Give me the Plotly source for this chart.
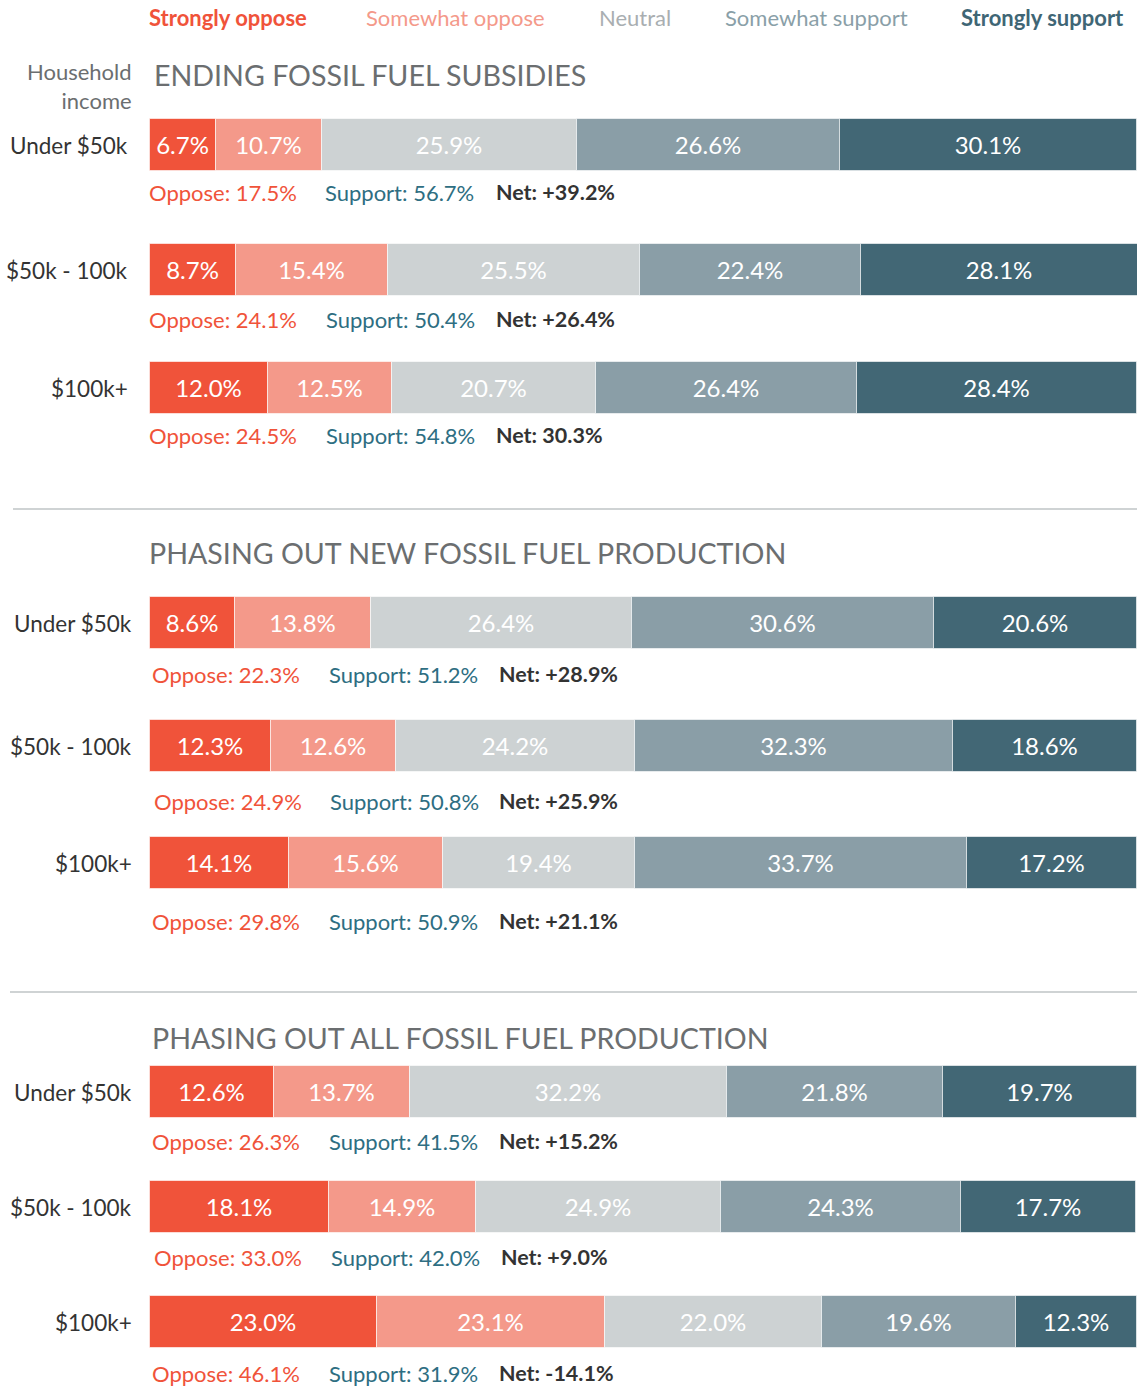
import plotly.graph_objects as go

# ---------------- data ----------------
questions = ["ENDING FOSSIL FUEL SUBSIDIES",
             "PHASING OUT NEW FOSSIL FUEL PRODUCTION",
             "PHASING OUT ALL FOSSIL FUEL PRODUCTION"]
incomes = ["Under $50k", "$50k - 100k", "$100k+"]
categories = ["Strongly oppose", "Somewhat oppose", "Neutral", "Somewhat support", "Strongly support"]

strongly_oppose = [6.7, 8.7, 12.0, 8.6, 12.3, 14.1, 12.6, 18.1, 23.0]
somewhat_oppose = [10.7, 15.4, 12.5, 13.8, 12.6, 15.6, 13.7, 14.9, 23.1]
neutral = [25.9, 25.5, 20.7, 26.4, 24.2, 19.4, 32.2, 24.9, 22.0]
somewhat_support = [26.6, 22.4, 26.4, 30.6, 32.3, 33.7, 21.8, 24.3, 19.6]
strongly_support = [30.1, 28.1, 28.4, 20.6, 18.6, 17.2, 19.7, 17.7, 12.3]

oppose_total = [17.5, 24.1, 24.5, 22.3, 24.9, 29.8, 26.3, 33.0, 46.1]
support_total = [56.7, 50.4, 54.8, 51.2, 50.8, 50.9, 41.5, 42.0, 31.9]
net_labels = ["+39.2%", "+26.4%", "30.3%", "+28.9%", "+25.9%", "+21.1%", "+15.2%", "+9.0%", "-14.1%"]

# ---------------- style / layout ----------------
W, H = 1137, 1387
LEFT = 150.0           # pixel of 0%
PXU = (W - LEFT) / 100  # pixels per percent
FONT = "Lato"
PAD = 3                # annotation inner padding compensation

colors = ["#f0533a", "#f4998a", "#cdd2d3", "#8a9ea7", "#426775"]
legend_colors = ["#f0533a", "#f4998a", "#a9aeb1", "#8a9fa8", "#3f6675"]
legend_px = [150, 367, 600, 726, 962]

row_centers = [145, 270, 388, 623, 746, 863, 1092, 1207, 1322]
summary_offsets = [47, 49, 47, 51, 55, 58, 49, 50, 51]
summary_px = [[150, 326, 497], [150, 327, 497], [150, 327, 497],
              [153, 330, 500], [155, 331, 500], [153, 330, 500],
              [153, 330, 500], [155, 332, 502], [153, 330, 500]]
title_y = [75, 553, 1038]
title_px = [155, 150, 153]
sep_y = [509, 992]
BAR_H = 52


def px2x(px):
    return (px - LEFT) / PXU


series = [strongly_oppose, somewhat_oppose, neutral, somewhat_support, strongly_support]

fig = go.Figure()
for k, (name, vals, col) in enumerate(zip(categories, series, colors)):
    base = [sum(s[i] for s in series[:k]) for i in range(len(vals))]
    fig.add_trace(go.Bar(
        orientation="h", name=name,
        x=vals, y=row_centers, base=base, width=BAR_H,
        marker=dict(color=col, line=dict(color="rgba(255,255,255,0.6)", width=1)),
        text=[f"{v:.1f}%" for v in vals],
        textposition="inside", insidetextanchor="middle",
        textfont=dict(family=FONT, size=24, color="white"),
        constraintext="none", hoverinfo="skip", showlegend=False,
    ))

ann = []
# legend
for lab, col, px in zip(categories, legend_colors, legend_px):
    bold = lab.startswith("Strongly")
    ann.append(dict(x=px2x(px - PAD), y=17, xref="x", yref="y", xanchor="left", yanchor="middle",
                    text=f"<b>{lab}</b>" if bold else lab, showarrow=False,
                    font=dict(family=FONT, size=22, color=col)))

# household income header
ann.append(dict(x=px2x(131 + PAD), y=85.5, xref="x", yref="y", xanchor="right", yanchor="middle",
                text="Household<br>income", align="right", showarrow=False,
                font=dict(family=FONT, size=22, color="#6b6e70")))

# titles
for q, ty, tx in zip(questions, title_y, title_px):
    ann.append(dict(x=px2x(tx - PAD), y=ty, xref="x", yref="y", xanchor="left", yanchor="middle",
                    text=q, showarrow=False, font=dict(family=FONT, size=28.6, color="#6b6e70")))

# row labels and summaries
for i, yc in enumerate(row_centers):
    ann.append(dict(x=px2x((127 if i < 3 else 131) + PAD), y=yc, xref="x", yref="y",
                    xanchor="right", yanchor="middle",
                    text=incomes[i % 3], showarrow=False,
                    font=dict(family=FONT, size=22.5, color="#333333")))
    ys = yc + summary_offsets[i]
    ox, sx, nx = summary_px[i]
    ann.append(dict(x=px2x(ox - PAD), y=ys, xref="x", yref="y", xanchor="left", yanchor="middle",
                    text=f"Oppose: {oppose_total[i]:.1f}%", showarrow=False,
                    font=dict(family=FONT, size=22, color="#f0533a")))
    ann.append(dict(x=px2x(sx - PAD), y=ys, xref="x", yref="y", xanchor="left", yanchor="middle",
                    text=f"Support: {support_total[i]:.1f}%", showarrow=False,
                    font=dict(family=FONT, size=22, color="#2e6e82")))
    ann.append(dict(x=px2x(nx - PAD), y=ys, xref="x", yref="y", xanchor="left", yanchor="middle",
                    text=f"<b>Net: {net_labels[i]}</b>", showarrow=False,
                    font=dict(family=FONT, size=21.5, color="#333333")))

shapes = []
for sy, sx0 in zip(sep_y, [13, 10]):
    shapes.append(dict(type="line", xref="x", yref="y", x0=px2x(sx0), x1=px2x(W), y0=sy, y1=sy,
                       line=dict(color="#cfd3d4", width=2)))

fig.update_layout(
    width=W, height=H, margin=dict(l=0, r=0, t=0, b=0),
    paper_bgcolor="white", plot_bgcolor="white",
    barmode="overlay", bargap=0,
    xaxis=dict(range=[px2x(0), px2x(W)], visible=False, fixedrange=True),
    yaxis=dict(range=[H, 0], visible=False, fixedrange=True),
    annotations=ann, shapes=shapes,
    font=dict(family=FONT),
)

fig.write_html("out.html", config={"displayModeBar": False},
               post_script="document.body.style.margin='0';document.body.style.overflow='hidden';")
